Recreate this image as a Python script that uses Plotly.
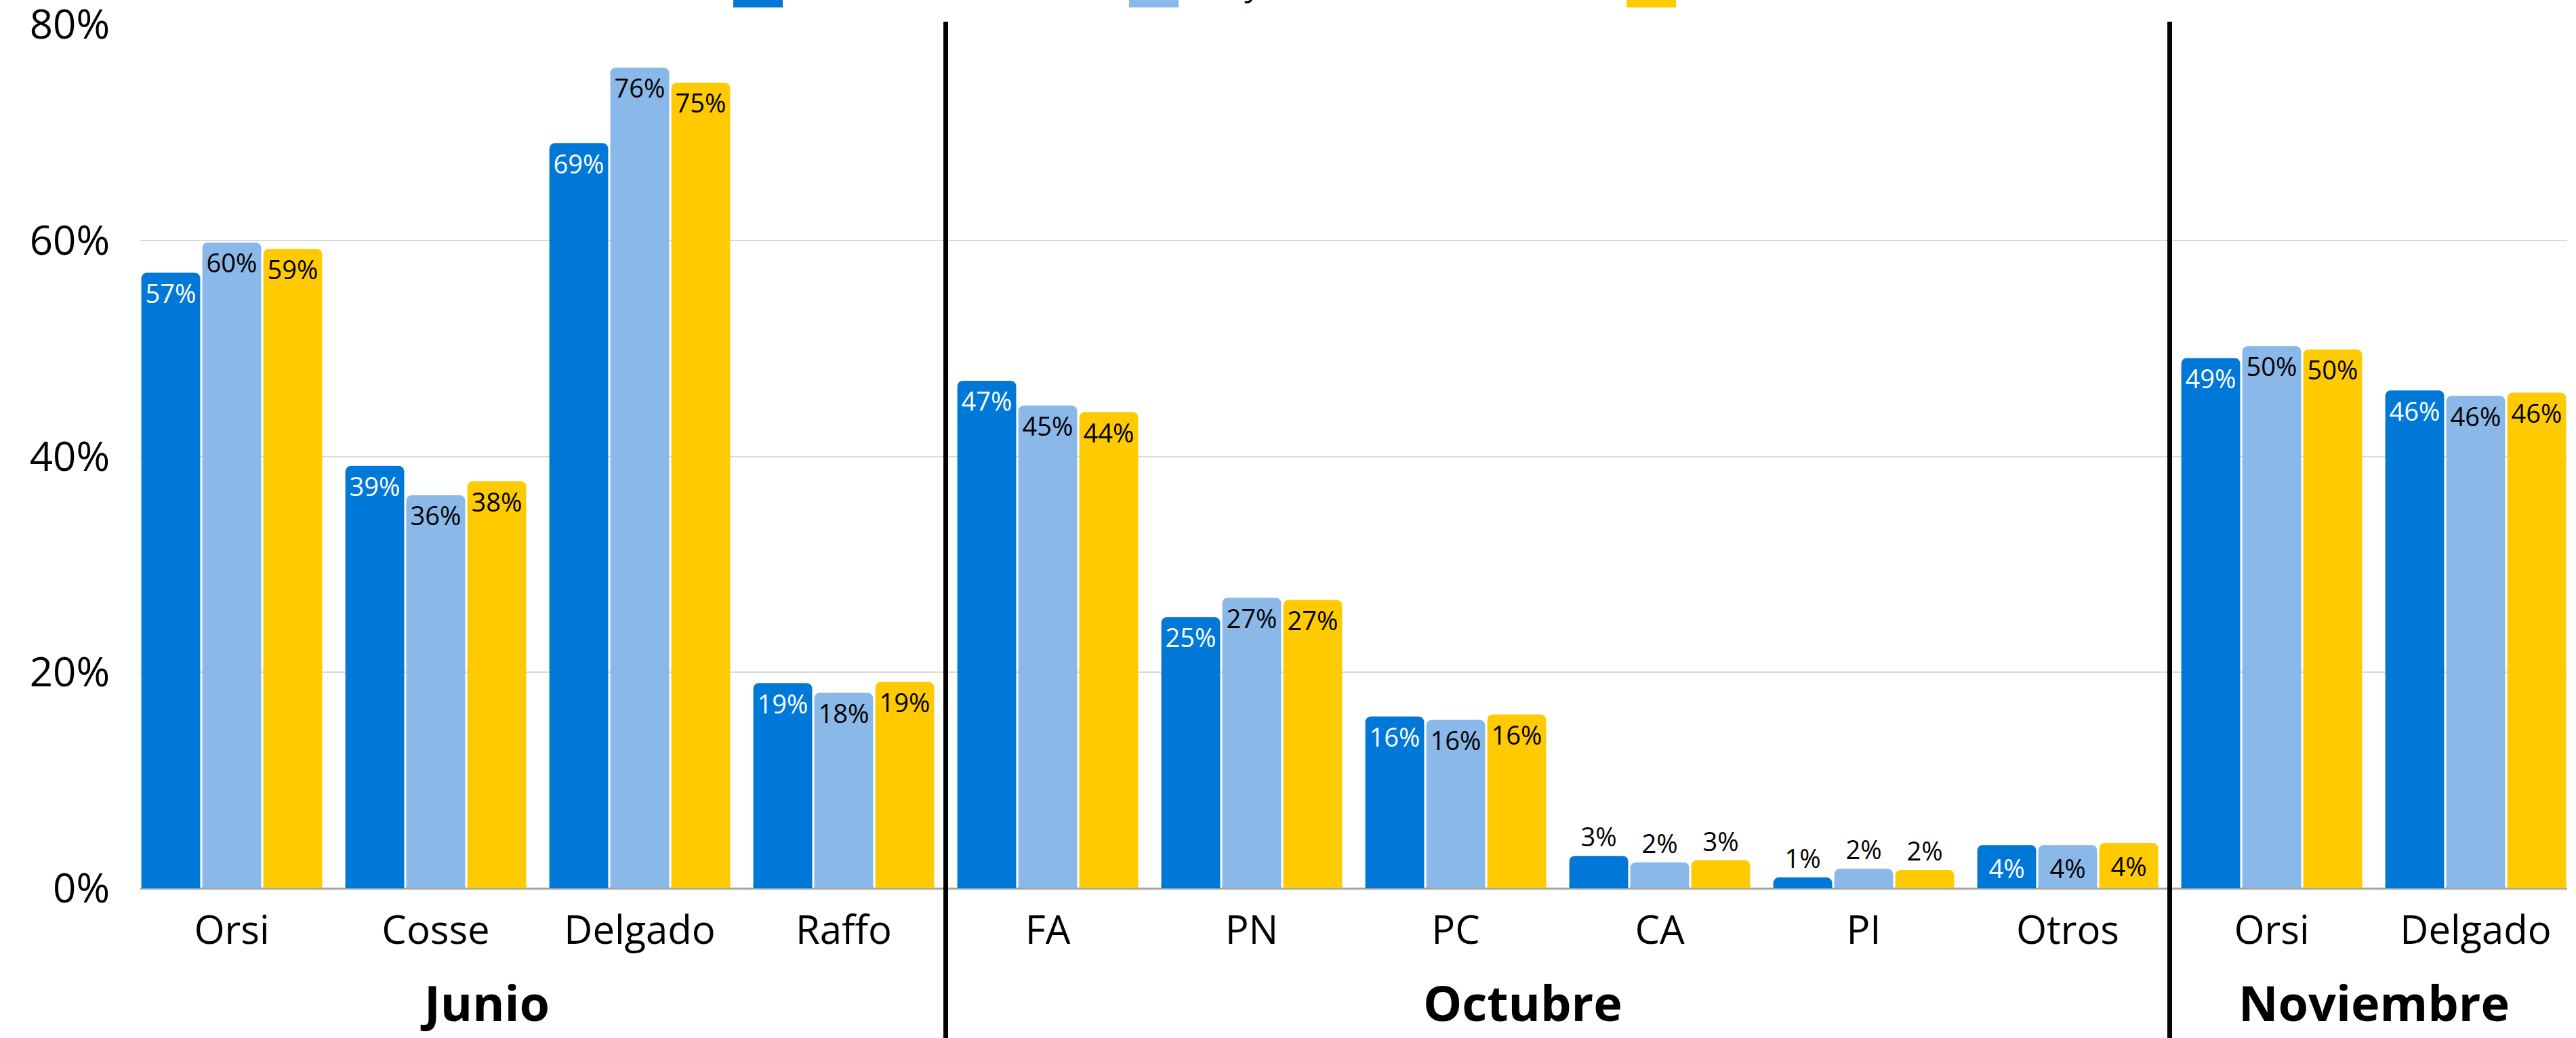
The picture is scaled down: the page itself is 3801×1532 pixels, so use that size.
import plotly.graph_objects as go

# ---------------- data ----------------
tick_labels = ["Orsi", "Cosse", "Delgado", "Raffo",
               "FA", "PN", "PC", "CA", "PI", "Otros",
               "Orsi", "Delgado"]
series_names = ["Encuestas", "Proyección", "Resultado"]
encuestas = [57.0, 39.1, 69.0, 19.0, 47.0, 25.1, 15.9, 3.0, 1.0, 4.0, 49.1, 46.1]
proyeccion = [59.8, 36.4, 76.0, 18.1, 44.7, 26.9, 15.6, 2.4, 1.8, 4.0, 50.2, 45.6]
resultado = [59.2, 37.7, 74.6, 19.1, 44.1, 26.7, 16.1, 2.6, 1.7, 4.2, 49.9, 45.9]
group_names = ["Junio", "Octubre", "Noviembre"]
group_label_x = [1.24, 6.33, 10.5]
separators_x = [3.5, 9.5]
y_ticks = [0, 20, 40, 60, 80]

colors = ["#0078D7", "#8AB8E8", "#FFCA00"]
inside_text_colors = ["white", "black", "black"]
FONT = "Open Sans, Noto Sans, sans-serif"

x = list(range(len(tick_labels)))
fig = go.Figure()
for name, vals, col, tcol in zip(series_names, [encuestas, proyeccion, resultado],
                                 colors, inside_text_colors):
    pos = ["inside" if v >= 3.5 else "outside" for v in vals]
    fig.add_trace(go.Bar(
        x=x, y=vals, name=name,
        marker=dict(color=col, line=dict(width=0), cornerradius=8),
        texttemplate="%{y:.0f}%",
        textposition=pos,
        insidetextanchor="end",
        textangle=0,
        constraintext="none",
        insidetextfont=dict(color=tcol, size=38, family=FONT),
        outsidetextfont=dict(color="black", size=38, family=FONT),
        cliponaxis=False,
        showlegend=False,
        hoverinfo="skip",
    ))

W, H = 3801, 1532
ml, mr, mt, mb = 207, 13, 36, 221
pw = W - ml - mr
ph = H - mt - mb

shapes = []
for sx in separators_x:
    shapes.append(dict(type="line", xref="x", yref="paper", x0=sx, x1=sx,
                       y0=-0.3, y1=1 + 4 / ph, line=dict(color="black", width=7),
                       layer="above"))

# legend (only the bottom strip is visible at the top edge of the page)
legend_px = [1082, 1666, 2400]
annotations = []
for lx, col, name in zip(legend_px, colors, series_names):
    x0 = (lx - ml) / pw
    x1 = (lx + 73 - ml) / pw
    shapes.append(dict(type="rect", xref="paper", yref="paper",
                       x0=x0, x1=x1, y0=1 + (mt - 11) / ph, y1=1 + (mt + 60) / ph,
                       fillcolor=col, line=dict(width=0)))
    annotations.append(dict(xref="paper", yref="paper", x=(lx + 91 - ml) / pw,
                            y=1 + (mt - 10) / ph, xanchor="left", yanchor="bottom",
                            text=name, showarrow=False,
                            font=dict(size=48, color="black", family=FONT)))

for gx, gname in zip(group_label_x, group_names):
    annotations.append(dict(xref="x", yref="paper", x=gx, y=-(1479 - (H - mb)) / ph,
                            xanchor="center", yanchor="middle",
                            text="<b>" + gname + "</b>", showarrow=False,
                            font=dict(size=72, color="black", family=FONT)))

fig.update_layout(
    width=W, height=H,
    margin=dict(l=ml, r=mr, t=mt, b=mb, autoexpand=False),
    paper_bgcolor="white", plot_bgcolor="white",
    barmode="group", bargap=0.103, bargroupgap=0.035,
    font=dict(family=FONT, color="black"),
    shapes=shapes, annotations=annotations,
    showlegend=False,
)
fig.update_xaxes(
    range=[-0.4485, len(tick_labels) - 1 + 0.4485],
    tickmode="array", tickvals=x, ticktext=tick_labels,
    tickfont=dict(size=58, family=FONT, color="black"),
    showgrid=False, zeroline=False, showline=False, ticks="",
    ticklabelstandoff=23,
)
fig.update_yaxes(
    range=[0, 80], tickmode="array", tickvals=y_ticks,
    ticktext=[f"{v}%" for v in y_ticks],
    tickfont=dict(size=60, family=FONT, color="black"),
    showgrid=True, gridcolor="#D9D9D9", gridwidth=2,
    zeroline=True, zerolinecolor="#A6A6A6", zerolinewidth=3,
    showline=False, ticks="", ticklabelstandoff=44,
    ticklabeloverflow="allow",
)

fig.write_html("out.html", config={"displayModeBar": False},
               post_script="document.body.style.margin='0';document.body.style.overflow='hidden';")
